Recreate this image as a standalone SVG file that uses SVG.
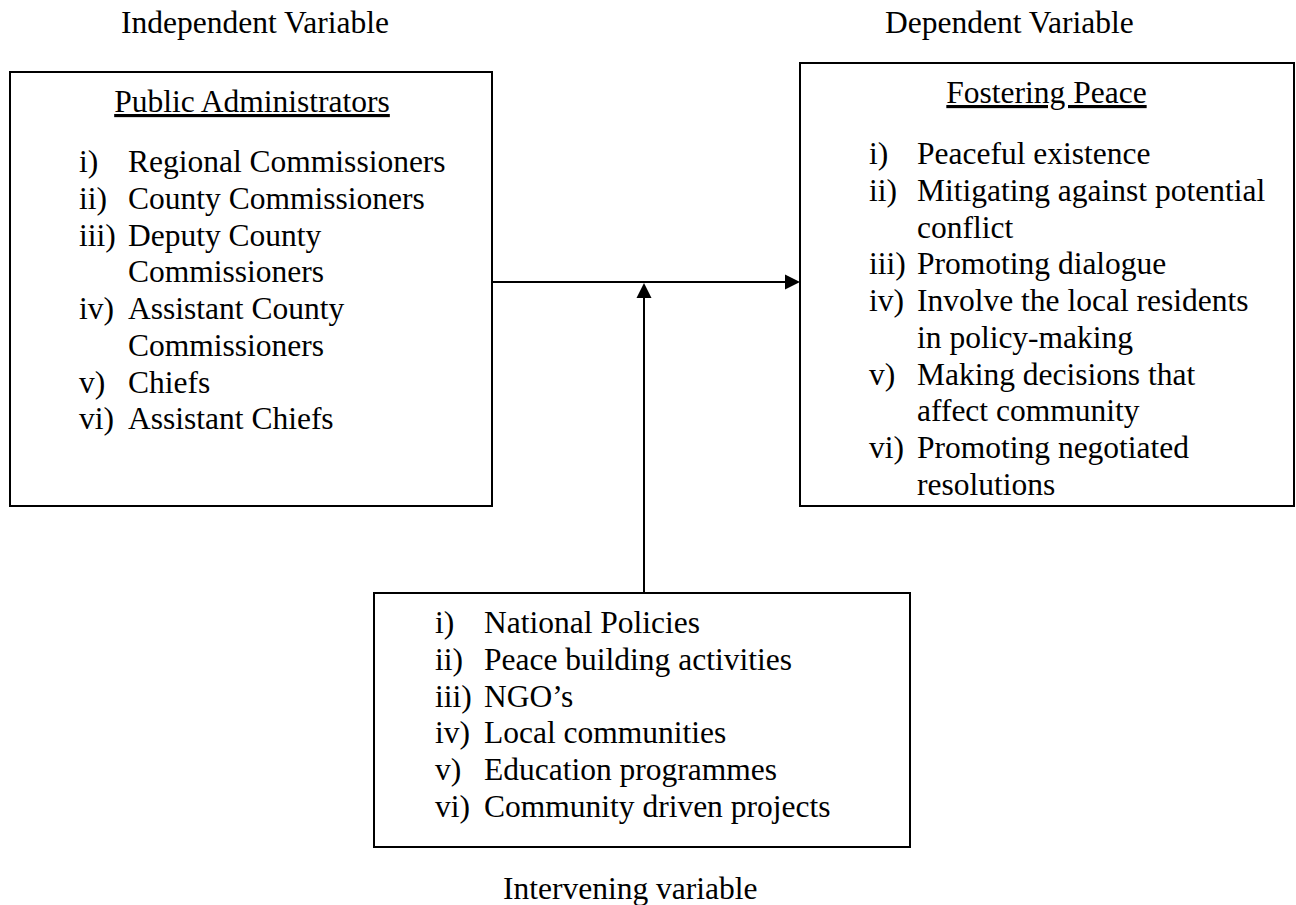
<svg xmlns="http://www.w3.org/2000/svg" width="1296" height="905" viewBox="0 0 1296 905">
<style>
text{font-family:"Liberation Serif","Times New Roman",serif;font-size:31.5px;fill:#000}
.box{fill:#fff;stroke:#000;stroke-width:2}
.title{text-anchor:middle;text-decoration:underline}
.conn{stroke:#000;stroke-width:2;fill:none}
.head{fill:#000}
</style>
<rect width="1296" height="905" fill="#fff"/>
<g id="labels">
<text x="121" y="33">Independent Variable</text>
<text x="885" y="33">Dependent Variable</text>
<text x="503" y="899">Intervening variable</text>
</g>
<g id="node-public-administrators">
<rect class="box" x="10" y="72" width="482" height="434"/>
<text class="title" x="252" y="112">Public Administrators</text>
<text x="79" y="172">i)</text><text x="128" y="172">Regional Commissioners</text>
<text x="79" y="208.75">ii)</text><text x="128" y="208.75">County Commissioners</text>
<text x="79" y="245.5">iii)</text><text x="128" y="245.5">Deputy County</text>
<text x="128" y="282.25">Commissioners</text>
<text x="79" y="319">iv)</text><text x="128" y="319">Assistant County</text>
<text x="128" y="355.75">Commissioners</text>
<text x="79" y="392.5">v)</text><text x="128" y="392.5">Chiefs</text>
<text x="79" y="429.25">vi)</text><text x="128" y="429.25">Assistant Chiefs</text>
</g>
<g id="node-fostering-peace">
<rect class="box" x="800" y="63" width="494" height="443"/>
<text class="title" x="1046.5" y="103">Fostering Peace</text>
<text x="869" y="164">i)</text><text x="917" y="164">Peaceful existence</text>
<text x="869" y="200.75">ii)</text><text x="917" y="200.75">Mitigating against potential</text>
<text x="917" y="237.5">conflict</text>
<text x="869" y="274.25">iii)</text><text x="917" y="274.25">Promoting dialogue</text>
<text x="869" y="311">iv)</text><text x="917" y="311">Involve the local residents</text>
<text x="917" y="347.75">in policy-making</text>
<text x="869" y="384.5">v)</text><text x="917" y="384.5">Making decisions that</text>
<text x="917" y="421.25">affect community</text>
<text x="869" y="458">vi)</text><text x="917" y="458">Promoting negotiated</text>
<text x="917" y="494.75">resolutions</text>
</g>
<g id="node-intervening">
<rect class="box" x="374" y="593" width="536" height="254"/>
<text x="435" y="633">i)</text><text x="484" y="633">National Policies</text>
<text x="435" y="669.75">ii)</text><text x="484" y="669.75">Peace building activities</text>
<text x="435" y="706.5">iii)</text><text x="484" y="706.5">NGO’s</text>
<text x="435" y="743.25">iv)</text><text x="484" y="743.25">Local communities</text>
<text x="435" y="780">v)</text><text x="484" y="780">Education programmes</text>
<text x="435" y="816.75">vi)</text><text x="484" y="816.75">Community driven projects</text>
</g>
<g id="connectors">
<line class="conn" x1="492" y1="282" x2="786" y2="282"/>
<polygon class="head" points="785,274.5 800,282 785,289.5"/>
<line class="conn" x1="644" y1="593" x2="644" y2="297"/>
<polygon class="head" points="636.5,298 644,283 651.5,298"/>
</g>
</svg>
